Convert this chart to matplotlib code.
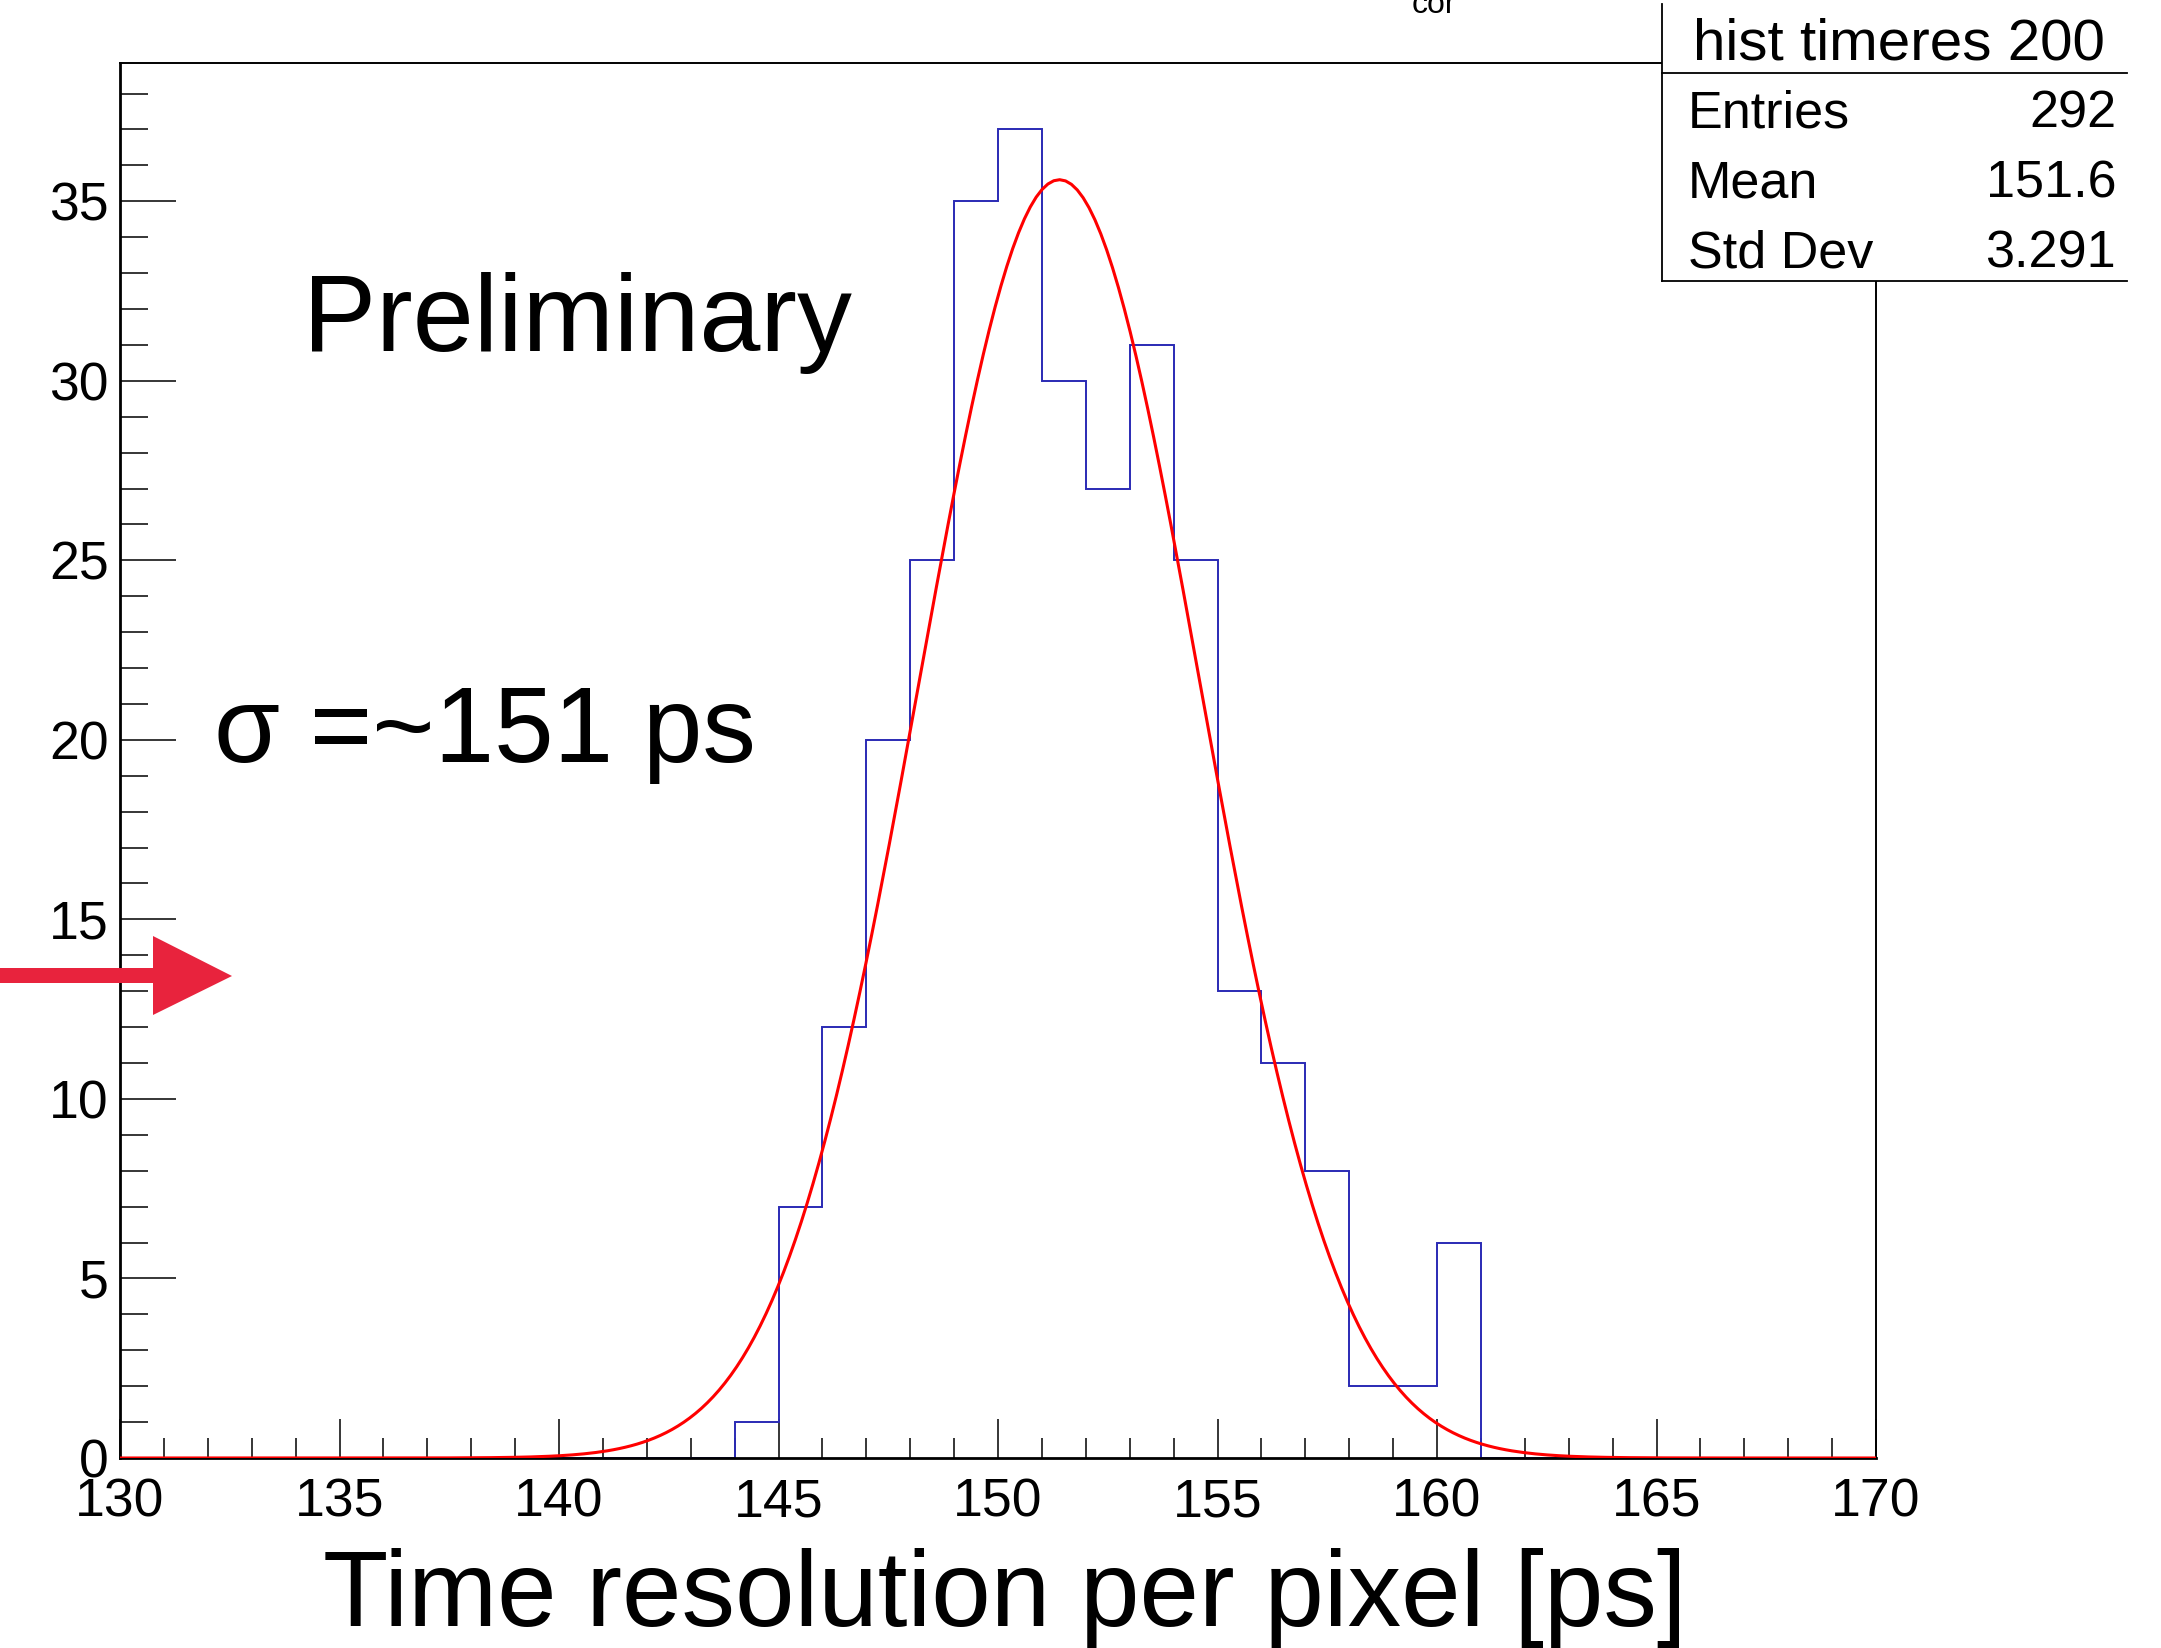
import numpy as np
import matplotlib.pyplot as plt
from matplotlib.patches import Rectangle, Polygon
from matplotlib.lines import Line2D

plt.rcParams['font.family'] = ['Liberation Sans', 'DejaVu Sans']

# histogram: 1 ps bins from 130 to 170
bin_edges = list(range(130, 171))
counts = [0] * 14 + [1, 7, 12, 20, 25, 35, 37, 30, 27, 31, 25, 13, 11, 8, 2, 2, 6] + [0] * 9

# gaussian fit parameters
fit_const = 35.6
fit_mean = 151.4
fit_sigma = 3.2

stats_title = 'hist timeres 200'
stats_names = ['Entries', 'Mean', 'Std Dev']
stats_values = ['292', '151.6', '3.291']

W, H = 2161, 1648


def fx(px):
    return px / W


def fy(py):
    return 1 - py / H


fig = plt.figure(figsize=(W / 100, H / 100), dpi=100)
ax = fig.add_axes([fx(120), fy(1458), fx(1876 - 120), (1458 - 63) / H])

ax.stairs(counts, bin_edges, baseline=0, color='#2a2ab4', linewidth=1.4, zorder=2)

xs = np.linspace(130, 170, 300)
ax.plot(xs, fit_const * np.exp(-0.5 * ((xs - fit_mean) / fit_sigma) ** 2),
        color='#ff0000', linewidth=2.2, zorder=3)

ax.set_xlim(130, 170)
ax.set_ylim(0, 38.85)
ax.set_xticks(range(130, 171, 5))
ax.set_xticks(range(130, 171), minor=True)
ax.set_yticks(range(0, 36, 5))
ax.set_yticks(range(0, 39), minor=True)

ax.tick_params(axis='both', which='both', direction='in', colors='black', width=1.1,
               labelsize=38.5, top=False, right=False)
ax.tick_params(axis='x', which='major', length=28, pad=14)
ax.tick_params(axis='x', which='minor', length=14.4)
ax.tick_params(axis='y', which='major', length=40, pad=8)
ax.tick_params(axis='y', which='minor', length=20)
for s in ax.spines.values():
    s.set_linewidth(1.4)
ax.spines['left'].set_linewidth(2)
ax.spines['bottom'].set_linewidth(2)

# texts inside the plot
fig.text(fx(303), fy(351), 'Preliminary', fontsize=79, va='baseline', ha='left')
fig.text(fx(214), fy(762), 'σ =~151 ps', fontsize=77, va='baseline', ha='left')

# x axis title
fig.text(fx(1005), fy(1626), 'Time resolution per pixel [ps]', fontsize=77,
         va='baseline', ha='center')

# cut-off title fragment at the top
fig.text(fx(1412), fy(13), 'cor', fontsize=23, va='baseline', ha='left')

# stats box
fig.add_artist(Rectangle((fx(1662), fy(281)), fx(2127 - 1662), (281 - 4) / H,
                         transform=fig.transFigure, facecolor='white', edgecolor='none', zorder=5))
for (x0, y0, x1, y1) in [(1662, 4, 1662, 281), (1662, 73, 2127, 73), (1662, 281, 2127, 281)]:
    fig.add_artist(Line2D([fx(x0), fx(x1)], [fy(y0), fy(y1)], transform=fig.transFigure,
                          color='black', linewidth=1.3, zorder=6))
fig.text(fx(1899), fy(59), stats_title, fontsize=42, ha='center', va='baseline', zorder=7)
row_base = [128, 198, 267]
for name, val, yb in zip(stats_names, stats_values, row_base):
    fig.text(fx(1688), fy(yb), name, fontsize=37.5, ha='left', va='baseline', zorder=7)
    fig.text(fx(2116), fy(yb), val, fontsize=37.5, ha='right', va='baseline', zorder=7)

# red arrow pointing into the plot
arrow_px = [(0, 968), (153, 968), (153, 936), (232, 976), (153, 1015), (153, 983), (0, 983)]
fig.add_artist(Polygon([(fx(x), fy(y)) for x, y in arrow_px], closed=True,
                       transform=fig.transFigure, facecolor='#e8233d', edgecolor='none', zorder=8))

fig.savefig('out.png', dpi=100)
